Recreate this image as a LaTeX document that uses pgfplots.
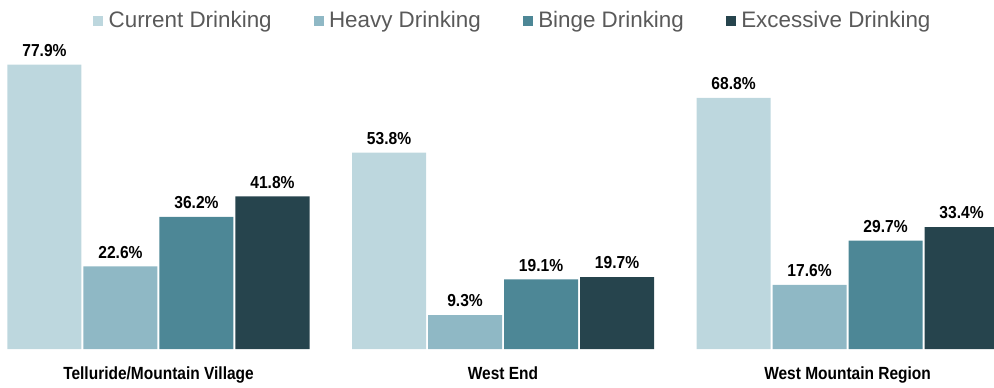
\documentclass[border=0pt]{standalone}
\usepackage{fontspec}
\setmainfont{Liberation Sans}
\newfontfamily\nvals[FakeStretch=0.9]{Liberation Sans}
\newfontfamily\ncats[FakeStretch=0.88]{Liberation Sans}
\usepackage{pgfplots}
\pgfplotsset{compat=1.18}
\definecolor{cA}{HTML}{BDD7DE}
\definecolor{cB}{HTML}{8FB8C5}
\definecolor{cC}{HTML}{4D8796}
\definecolor{cD}{HTML}{26444D}
\definecolor{legtext}{HTML}{595959}
\pgfplotsset{mysq/.style={legend image code/.code={\fill[##1] (0pt,1.3pt) rectangle (7.5pt,8.8pt);}}}
\begin{document}
\begin{tikzpicture}
\begin{axis}[
  scale only axis, width=745.5pt, height=261.75pt,
  xmin=-0.460, xmax=2.425, ymin=0, ymax=95.6,
  axis line style={draw=none}, ytick=\empty,
  xtick={0,1,2},
  xticklabels={Telluride/Mountain Village, West End, West Mountain Region},
  major tick length=0pt,
  xticklabel style={font=\ncats\bfseries\fontsize{13.2pt}{15pt}\selectfont, anchor=base, yshift=-22.5pt, text=black},
  ybar, bar width=0.2148,
  clip=false,
  /pgf/number format/assume math mode=true,
  nodes near coords={\pgfmathprintnumber[fixed,fixed zerofill,precision=1]{\pgfplotspointmeta}\%},
  every node near coord/.append style={font=\nvals\bfseries\fontsize{13pt}{15pt}\selectfont, text=black, anchor=south, inner sep=0pt, outer sep=0pt, yshift=6pt},
  legend columns=4,
  legend style={at={(0.0936,0.968)}, anchor=north west, draw=none, fill=none, inner sep=0pt,
    font=\fontsize{16.8pt}{19pt}\selectfont, text=legtext,
    /tikz/every odd column/.append style={column sep=4pt},
    /tikz/every even column/.append style={column sep=31.5pt},
    nodes={inner sep=0pt, anchor=base west}},
]
\addplot[fill=cA, draw=none, bar shift=-0.3309, mysq] coordinates {(0,77.9) (1,53.8) (2,68.8)};
\addlegendentry{Current Drinking}
\addplot[fill=cB, draw=none, bar shift=-0.1103, mysq] coordinates {(0,22.6) (1,9.3) (2,17.6)};
\addlegendentry{Heavy Drinking}
\addplot[fill=cC, draw=none, bar shift=0.1103, mysq] coordinates {(0,36.2) (1,19.1) (2,29.7)};
\addlegendentry{Binge Drinking}
\addplot[fill=cD, draw=none, bar shift=0.3309, mysq] coordinates {(0,41.8) (1,19.7) (2,33.4)};
\addlegendentry{Excessive Drinking}
\end{axis}
\pgfresetboundingbox
\path (current axis.south west) ++(0,-28.5pt) rectangle (current axis.north east);
\end{tikzpicture}
\end{document}
